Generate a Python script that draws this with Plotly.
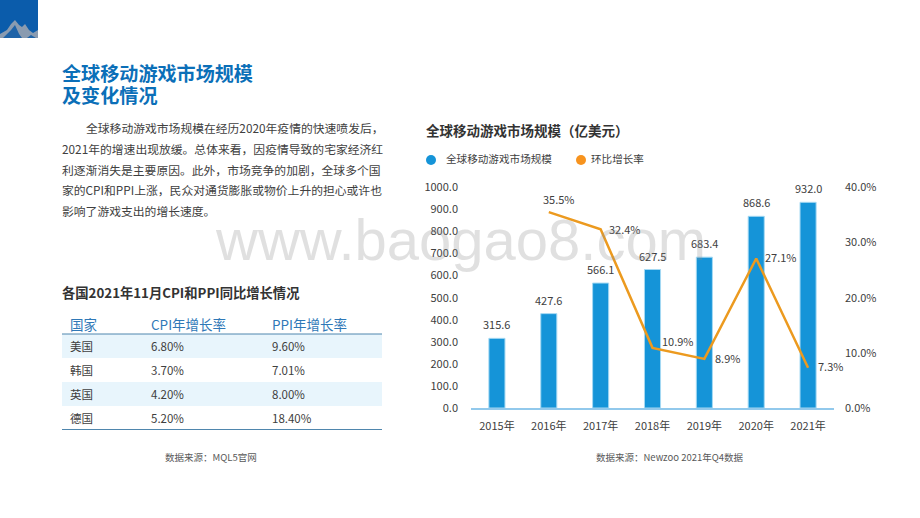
import plotly.graph_objects as go

WIDTH = 920
HEIGHT = 518
FONT = "Noto Sans CJK SC"

years = ["2015年", "2016年", "2017年", "2018年", "2019年", "2020年", "2021年"]
market_size = [315.6, 427.6, 566.1, 627.5, 683.4, 868.6, 932.0]
growth_rate = [None, 35.5, 32.4, 10.9, 8.9, 27.1, 7.3]
size_ticks = [0, 100, 200, 300, 400, 500, 600, 700, 800, 900, 1000]
rate_ticks = [0, 10, 20, 30, 40]
# label offset from its point, in pixels
rate_label_dx = [0, 10, 24, 25, 23, 25, 22]
rate_label_dy = [0, 13, 0, 7, 1, 1, 2]

countries = ["美国", "韩国", "英国", "德国"]
cpi_rates = ["6.80%", "3.70%", "4.20%", "5.20%"]
ppi_rates = ["9.60%", "7.01%", "8.00%", "18.40%"]
table_headers = ["国家", "CPI年增长率", "PPI年增长率"]

body_lines = [
    "全球移动游戏市场规模在经历2020年疫情的快速喷发后，",
    "2021年的增速出现放缓。总体来看，因疫情导致的宅家经济红",
    "利逐渐消失是主要原因。此外，市场竞争的加剧，全球多个国",
    "家的CPI和PPI上涨，民众对通货膨胀或物价上升的担心或许也",
    "影响了游戏支出的增长速度。",
]


def px(x):
    return x / WIDTH


def py(y):
    return 1 - y / HEIGHT


def add_text(fig, x, y, text, size, color="#404040", anchor="left", bold=False, family=FONT):
    if bold:
        text = f"<b>{text}</b>"
    fig.add_annotation(x=px(x), y=py(y), xref="paper", yref="paper", text=text, showarrow=False,
                       xanchor=anchor, yanchor="middle", align=anchor,
                       borderpad=0, font=dict(family=family, size=size, color=color))


def add_polygon(fig, points, color):
    fig.add_shape(type="path", xref="paper", yref="paper", line_width=0, fillcolor=color,
                  path="M " + " L ".join(f"{px(a):.4f},{py(b):.4f}" for a, b in points) + " Z")


fig = go.Figure()

fig.add_trace(go.Bar(x=years, y=market_size, cliponaxis=False, width=0.31,
                     marker=dict(color="#1594d8", line=dict(color="#a5d9f3", width=1)),
                     name="全球移动游戏市场规模"))

fig.add_trace(go.Scatter(x=years, y=growth_rate, yaxis="y2", mode="lines", cliponaxis=False,
                         line=dict(color="#ec9a1f", width=2.5),
                         name="环比增长率"))

for year, size in zip(years, market_size):
    fig.add_annotation(x=year, y=size, xref="x", yref="y", text=f"{size:.1f}", showarrow=False,
                       yshift=14, font=dict(family=FONT, size=11, color="#404040"))

for year, rate, dx, dy in zip(years, growth_rate, rate_label_dx, rate_label_dy):
    if rate is not None:
        fig.add_annotation(x=year, y=rate, xref="x", yref="y2", text=f"{rate:.1f}%", showarrow=False,
                           xshift=dx, yshift=dy, font=dict(family=FONT, size=11, color="#404040"))

fig.add_trace(go.Table(domain=dict(x=[px(62), px(382)], y=[py(429), py(312)]),
                       columnwidth=[81, 121, 118],
                       header=dict(values=table_headers, height=22, align="left",
                                   fill_color="white", line_width=0,
                                   font=dict(family=FONT, size=13.5, color="#2f78b7")),
                       cells=dict(values=[countries, cpi_rates, ppi_rates], height=24, align="left",
                                  fill_color=[["#e8f5fc", "white", "#e8f5fc", "white"]], line_width=0,
                                  font=dict(family=FONT, size=11.5, color="#404040"))))

fig.update_layout(
    width=WIDTH, height=HEIGHT, margin=dict(l=0, r=0, t=0, b=0, pad=0, autoexpand=False),
    paper_bgcolor="white", plot_bgcolor="rgba(0,0,0,0)", showlegend=False,
    font=dict(family=FONT, size=11, color="#404040"),
    xaxis=dict(domain=[px(471), px(834)], anchor="y", range=[-0.5, 6.5], showgrid=False, ticks="",
               showline=True, linecolor="#92c9ec", linewidth=1.5, ticklabelstandoff=7),
    yaxis=dict(domain=[py(408), py(187.3)], range=[0, 1000], tickvals=size_ticks,
               tickformat=".1f", showgrid=False, zeroline=False, ticks="", ticklabelstandoff=12,
               anchor="x"),
    yaxis2=dict(domain=[py(408), py(187.3)], range=[0, 40], overlaying="y", side="right",
                tickvals=rate_ticks, ticktext=[f"{v:.1f}%" for v in rate_ticks], showgrid=False,
                zeroline=False, ticks="", ticklabelstandoff=10, anchor="x"),
)

# corner block
fig.add_shape(type="rect", xref="paper", yref="paper", x0=0, x1=px(38), y0=py(38), y1=1,
              line_width=0, fillcolor="#0b5cab")
add_polygon(fig, [(0, 38), (0, 34), (7, 30), (11, 24), (15, 20), (19, 25), (22, 27), (25, 24), (29, 30),
                  (33, 33), (38, 30), (38, 38)], "#8a9bb0")
add_polygon(fig, [(3, 38), (11, 30), (15, 25), (19, 34), (22, 38)], "#1f63a8")
add_polygon(fig, [(27, 38), (31, 35), (36, 38)], "#1f63a8")

# page text
add_text(fig, 61, 73, "全球移动游戏市场规模", 19.1, "#0b6fb8", bold=True)
add_text(fig, 61, 95, "及变化情况", 19.1, "#0b6fb8", bold=True)
for i, line in enumerate(body_lines):
    add_text(fig, 85 if i == 0 else 61, 127.5 + 20.8 * i, line, 11.8)

add_text(fig, 61, 292.5, "各国2021年11月CPI和PPI同比增长情况", 13.3, "#333333", bold=True)
add_text(fig, 211, 457, "数据来源：MQL5官网", 9.5, "#595959", anchor="center")

add_text(fig, 425, 129.5, "全球移动游戏市场规模（亿美元）", 13.5, "#333333", bold=True)
add_text(fig, 445, 159, "全球移动游戏市场规模", 10.6)
add_text(fig, 590, 159, "环比增长率", 10.6)
add_text(fig, 670, 457, "数据来源：Newzoo 2021年Q4数据", 9.5, "#595959", anchor="center")

# legend dots
for cx, color in [(431, "#1594d8"), (581, "#f7931e")]:
    fig.add_shape(type="circle", xref="paper", yref="paper", line_width=0, fillcolor=color,
                  x0=px(cx - 5), x1=px(cx + 5), y0=py(165), y1=py(155))

# table rules
for y in [334, 429.5]:
    fig.add_shape(type="line", xref="paper", yref="paper", x0=px(62), x1=px(382), y0=py(y), y1=py(y),
                  line=dict(color="#4f86ad", width=1))

add_text(fig, 460.5, 239, "www.baogao8.com", 58, "rgba(140,140,140,0.27)", anchor="center", family="Liberation Sans")

# the page's default body margin would push the figure off its coordinates
fig.write_html("out.html", config=dict(displayModeBar=False),
               post_script="document.body.style.margin = '0';")
